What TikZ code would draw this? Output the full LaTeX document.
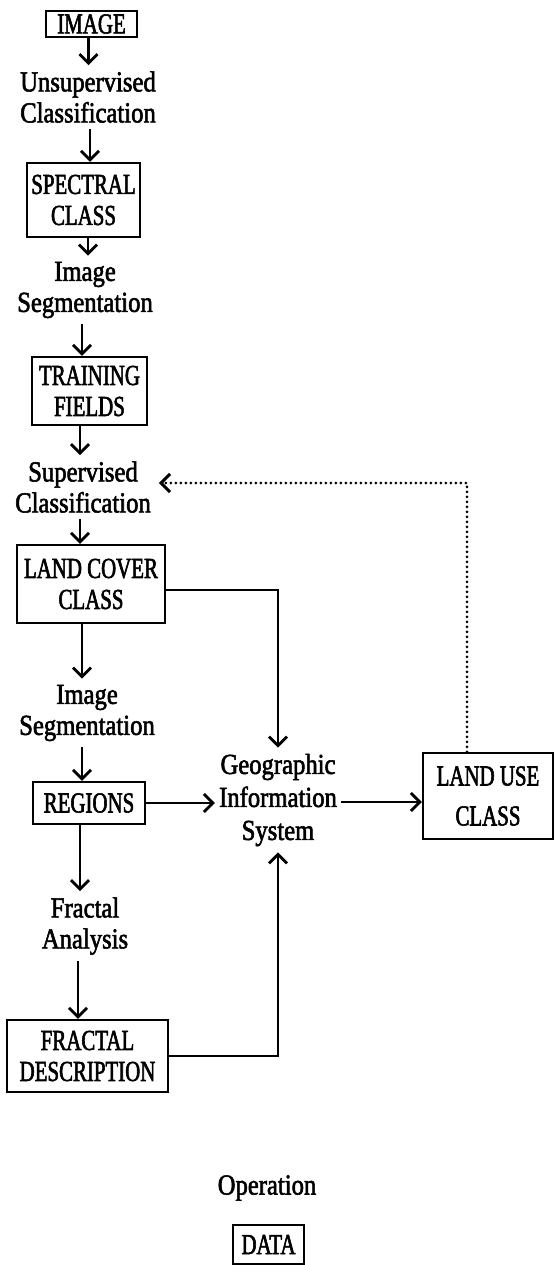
\documentclass[tikz,border=0pt]{standalone}
\usepackage{fontspec}
\setmainfont{Liberation Serif}[FakeStretch=0.85,FakeBold=2]
\newfontfamily\boxfont{Liberation Serif}[FakeStretch=0.72,FakeBold=2]
\usetikzlibrary{arrows.meta}
\tikzset{
  databox/.style={draw, line width=2.4pt, inner sep=0pt, align=center,
    font=\boxfont\fontsize{29}{31}\selectfont},
  optext/.style={inner xsep=4pt, inner ysep=6pt, align=center,
    font=\fontsize{29}{31}\selectfont},
  arr/.style={line width=2.8pt, -{Straight Barb[length=9pt,width=18pt]}},
  dotarr/.style={line width=3pt, dash pattern=on 0pt off 5pt, line cap=round,
    -{Straight Barb[length=9pt,width=18pt]}},
}
\begin{document}
\begin{tikzpicture}[x=1pt,y=-1pt]
\useasboundingbox[fill=white] (0,0) rectangle (555,1265);

\node[databox, minimum width=91pt, minimum height=26pt] (image) at (91.5,24) {IMAGE};
\node[optext] (uc) at (88,97) {Unsupervised\\Classification};
\node[databox, minimum width=113pt, minimum height=74pt] (spectral) at (83.5,200) {SPECTRAL\\CLASS};
\node[optext] (is1) at (85,290) {Image\\Segmentation};
\node[databox, minimum width=115pt, minimum height=68pt] (training) at (89.5,391) {TRAINING\\FIELDS};
\node[optext] (sc) at (83,487) {Supervised\\Classification};
\node[databox, minimum width=148pt, minimum height=78pt] (landcover) at (91,584) {LAND COVER\\CLASS};
\node[optext] (is2) at (87,713) {Image\\Segmentation};
\node[databox, minimum width=112pt, minimum height=42pt] (regions) at (89,803) {REGIONS};
\node[optext] (fa) at (85,926) {Fractal\\Analysis};
\node[databox, minimum width=161pt, minimum height=72pt] (fd) at (87.5,1056) {FRACTAL\\DESCRIPTION};
\node[optext] (gis) at (278,800) {Geographic\\[2pt]Information\\[2pt]System};
\node[databox, minimum width=130pt, minimum height=86pt] (landuse) at (488,796) {LAND USE\\[9pt]CLASS};
\node[optext] (op) at (267,1188) {Operation};
\node[databox, minimum width=71pt, minimum height=39pt] (data) at (268.5,1244.5) {DATA};

% vertical chain
\draw[arr] ([xshift=-3pt]image.south) -- ([xshift=-3pt]image.south |- uc.north);
\draw[arr] ([xshift=2pt]uc.south) -- ([xshift=2pt]uc.south |- spectral.north);
\draw[arr] ([xshift=4.5pt]spectral.south) -- ([xshift=4.5pt]spectral.south |- is1.north);
\draw[arr] ([xshift=-3pt]is1.south) -- ([xshift=-3pt]is1.south |- training.north);
\draw[arr] ([xshift=-9.5pt]training.south) -- ([xshift=-9.5pt]training.south |- sc.north);
\draw[arr] ([xshift=-3pt]sc.south) -- ([xshift=-3pt]sc.south |- landcover.north);
\draw[arr] ([xshift=-9pt]landcover.south) -- ([xshift=-9pt]landcover.south |- is2.north);
\draw[arr] ([xshift=-5pt]is2.south) -- ([xshift=-5pt]is2.south |- regions.north);
\draw[arr] ([xshift=-9pt]regions.south) -- ([xshift=-9pt]regions.south |- fa.north);
\draw[arr] ([xshift=-7pt]fa.south) -- ([xshift=-7pt]fa.south |- fd.north);

% into GIS
\draw[arr] (regions.east) -- (regions.east -| gis.west);
\draw[arr] ([yshift=-6pt]landcover.east) -| (gis.north);
\draw[arr] (fd.east) -| (gis.south);

% GIS to land use
\draw[arr] ([yshift=-2pt]gis.east) -- ([yshift=-2pt]gis.east -| landuse.west);

% feedback
\draw[dotarr] ([xshift=-21pt]landuse.north) |- ([xshift=4pt,yshift=4pt]sc.east);
\end{tikzpicture}
\end{document}
